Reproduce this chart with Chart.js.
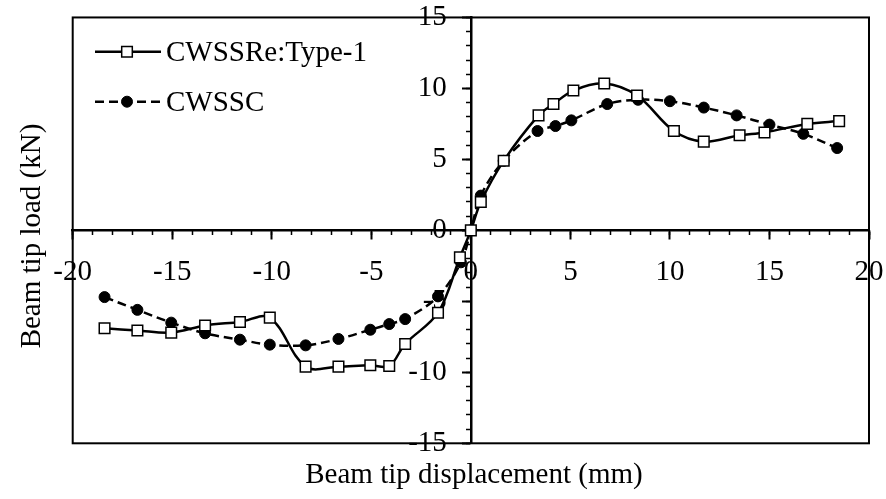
<!DOCTYPE html>
<html>
<head>
<meta charset="utf-8">
<script src="https://cdn.jsdelivr.net/npm/chart.js@4.4.1/dist/chart.umd.min.js"></script>
<style>
  body { margin: 0; background: #fff; }
  canvas { display: block; }
</style>
</head>
<body>
<canvas id="hysteresis" width="886" height="499"></canvas>
<script>
// beam tip displacement (mm) / load (kN), envelope points
var dispType1 = [-18.4, -16.75, -15.05, -13.35, -11.6, -10.1, -8.3, -6.65, -5.05, -4.1, -3.3, -1.65, -0.55, 0,
                 0.5, 1.65, 3.4, 4.15, 5.15, 6.7, 8.35, 10.2, 11.7, 13.5, 14.75, 16.9, 18.5];
var loadType1 = [-6.9, -7.05, -7.2, -6.7, -6.45, -6.15, -9.6, -9.6, -9.5, -9.55, -8.0, -5.8, -1.9, 0,
                 2.0, 4.9, 8.1, 8.9, 9.85, 10.35, 9.5, 7.0, 6.25, 6.7, 6.9, 7.5, 7.7];

var dispCWSSC = [-18.4, -16.75, -15.05, -13.35, -11.6, -10.1, -8.3, -6.65, -5.05, -4.1, -3.3, -1.65, -0.5, 0,
                 0.5, 1.65, 3.35, 4.25, 5.05, 6.85, 8.4, 10.0, 11.7, 13.35, 15.0, 16.7, 18.4];
var loadCWSSC = [-4.7, -5.6, -6.5, -7.25, -7.7, -8.05, -8.1, -7.65, -7.0, -6.6, -6.25, -4.65, -2.25, 0,
                 2.45, 4.9, 7.0, 7.35, 7.75, 8.9, 9.2, 9.1, 8.65, 8.1, 7.45, 6.8, 5.8];

var seriesNames = ['CWSSRe:Type-1', 'CWSSC'];
var xRange = [-20, 20];
var yRange = [-15, 15];
var majorStep = 5;
var minorStep = 1;
var xTitle = 'Beam tip displacement (mm)';
var yTitle = 'Beam tip load (kN)';

var FONT = "'Liberation Serif', 'Times New Roman', serif";

function toPoints(xs, ys) {
  return xs.map(function(x, i) { return {x: x, y: ys[i]}; });
}

// frame, legend and axis titles
var decorations = {
  id: 'decorations',
  beforeDatasetsDraw: function(chart) {
    var ctx = chart.ctx, a = chart.chartArea;
    ctx.save();
    ctx.strokeStyle = '#000';
    ctx.lineWidth = 2;
    ctx.strokeRect(a.left, a.top, a.right - a.left, a.bottom - a.top);
    ctx.restore();
  },
  afterDraw: function(chart) {
    var ctx = chart.ctx;
    ctx.save();
    ctx.fillStyle = '#000';
    ctx.font = '29px ' + FONT;

    // legend rows
    chart.data.datasets.forEach(function(ds, i) {
      var y = 51.7 + i * 50;
      ctx.save();
      ctx.strokeStyle = '#000';
      ctx.lineWidth = ds.borderWidth;
      ctx.setLineDash(ds.borderDash || []);
      ctx.beginPath();
      ctx.moveTo(95, y);
      ctx.lineTo(161, y);
      ctx.stroke();
      ctx.setLineDash([]);
      ctx.fillStyle = ds.pointBackgroundColor;
      ctx.strokeStyle = ds.pointBorderColor;
      ctx.lineWidth = ds.pointBorderWidth;
      Chart.helpers.drawPoint(ctx, {pointStyle: ds.pointStyle, radius: ds.pointRadius, borderWidth: ds.pointBorderWidth, rotation: 0}, 127, y);
      ctx.restore();
      ctx.textAlign = 'left';
      ctx.textBaseline = 'alphabetic';
      ctx.fillText(ds.label, 166, y + 9.5);
    });

    // axis titles
    ctx.textAlign = 'center';
    ctx.textBaseline = 'alphabetic';
    ctx.fillText(xTitle, 474, 483);
    ctx.translate(39.5, 236);
    ctx.rotate(-Math.PI / 2);
    ctx.fillText(yTitle, 0, 0);
    ctx.restore();
  }
};

new Chart(document.getElementById('hysteresis'), {
  type: 'line',
  data: {
    datasets: [
      {
        label: seriesNames[0],
        data: toPoints(dispType1, loadType1),
        borderColor: '#000',
        borderWidth: 2.5,
        tension: 0.35,
        pointStyle: 'rect',
        pointRadius: 7.5,
        pointBackgroundColor: '#fff',
        pointBorderColor: '#000',
        pointBorderWidth: 1.5
      },
      {
        label: seriesNames[1],
        data: toPoints(dispCWSSC, loadCWSSC),
        borderColor: '#000',
        borderWidth: 2.5,
        borderDash: [9, 5],
        tension: 0.35,
        pointStyle: 'circle',
        pointRadius: 5.5,
        pointBackgroundColor: '#000',
        pointBorderColor: '#000',
        pointBorderWidth: 1
      }
    ]
  },
  options: {
    responsive: false,
    animation: false,
    events: [],
    layout: {padding: {left: 72.7, top: 17.3, right: 17, bottom: 55.7}},
    plugins: {legend: {display: false}, tooltip: {enabled: false}},
    scales: {
      // x labels sit well below the axis: the tall line box does the spacing
      x: {
        type: 'linear',
        position: {y: 0},
        min: xRange[0], max: xRange[1],
        ticks: {stepSize: majorStep, autoSkip: false, padding: 0, color: '#000',
                font: {family: FONT, size: 29, lineHeight: 2.35}},
        grid: {drawOnChartArea: false, tickLength: 8, tickWidth: 2, tickColor: '#000'},
        border: {color: '#000', width: 2.5}
      },
      xMinor: {
        type: 'linear',
        axis: 'x',
        position: {y: 0},
        min: xRange[0], max: xRange[1],
        ticks: {stepSize: minorStep, display: false},
        grid: {drawOnChartArea: false, tickLength: 5, tickWidth: 1.5, tickColor: '#000'},
        border: {display: false}
      },
      y: {
        type: 'linear',
        position: 'center',
        min: yRange[0], max: yRange[1],
        ticks: {stepSize: majorStep, autoSkip: false, padding: 16, color: '#000',
                font: {family: FONT, size: 29, lineHeight: 0.1}},
        grid: {drawOnChartArea: false, tickLength: 8, tickWidth: 2, tickColor: '#000'},
        border: {color: '#000', width: 2.5}
      },
      yMinor: {
        type: 'linear',
        axis: 'y',
        position: {x: 0},
        min: yRange[0], max: yRange[1],
        ticks: {stepSize: minorStep, display: false},
        grid: {drawOnChartArea: false, tickLength: 5, tickWidth: 1.5, tickColor: '#000'},
        border: {display: false}
      }
    }
  },
  plugins: [decorations]
});
</script>
</body>
</html>
